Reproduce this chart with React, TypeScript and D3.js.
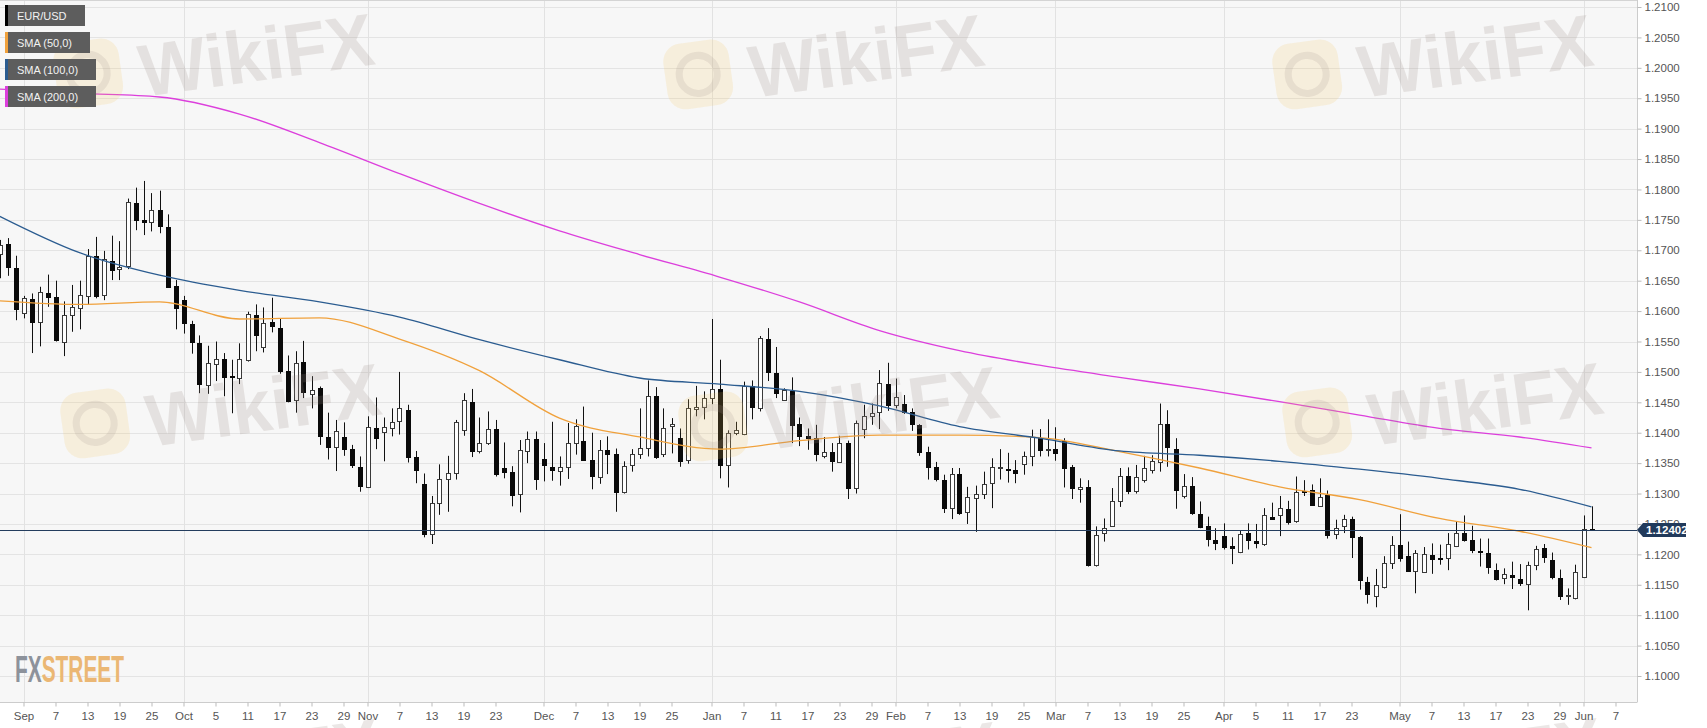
import React, { useEffect, useRef } from 'react';
import * as d3 from 'd3';

// EUR/USD daily candles, one per weekday from 29 Aug 2018 to 4 Jun 2019
const opens = [
  1.1695, 1.1710, 1.1671, 1.1596, 1.1620, 1.1581, 1.1630, 1.1623, 1.1549, 1.1594,
  1.1606, 1.1625, 1.1691, 1.1625, 1.1683, 1.1669, 1.1673, 1.1777, 1.1749, 1.1748,
  1.1766, 1.1739, 1.1642, 1.1618, 1.1579, 1.1548, 1.1479, 1.1514, 1.1522, 1.1493,
  1.1490, 1.1521, 1.1594, 1.1541, 1.1582, 1.1573, 1.1502, 1.1453, 1.1516, 1.1465,
  1.1473, 1.1393, 1.1376, 1.1393, 1.1373, 1.1344, 1.1311, 1.1407, 1.1401, 1.1408,
  1.1418, 1.1438, 1.1360, 1.1316, 1.1234, 1.1285, 1.1323, 1.1333, 1.1404, 1.1451,
  1.1370, 1.1383, 1.1406, 1.1342, 1.1335, 1.1298, 1.1371, 1.1389, 1.1357, 1.1344,
  1.1338, 1.1344, 1.1383, 1.1387, 1.1355, 1.1327, 1.1372, 1.1365, 1.1303, 1.1347,
  1.1365, 1.1375, 1.1461, 1.1364, 1.1410, 1.1392, 1.1354, 1.1440, 1.1443, 1.1457,
  1.1472, 1.1346, 1.1399, 1.1398, 1.1477, 1.1440, 1.1554, 1.1498, 1.1454, 1.1469,
  1.1414, 1.1394, 1.1392, 1.1362, 1.1368, 1.1352, 1.1383, 1.1309, 1.1406, 1.1428,
  1.1433, 1.1480, 1.1446, 1.1448, 1.1434, 1.1413, 1.1368, 1.1343, 1.1323, 1.1276,
  1.1332, 1.1269, 1.1292, 1.1299, 1.1316, 1.1342, 1.1340, 1.1338, 1.1349, 1.1362,
  1.1392, 1.1372, 1.1373, 1.1387, 1.1343, 1.1308, 1.1311, 1.1183, 1.1235, 1.1247,
  1.1288, 1.1329, 1.1304, 1.1322, 1.1339, 1.1352, 1.1414, 1.1373, 1.1296, 1.1313,
  1.1266, 1.1246, 1.1224, 1.1231, 1.1214, 1.1205, 1.1235, 1.1222, 1.1218, 1.1262,
  1.1264, 1.1274, 1.1254, 1.1304, 1.1306, 1.1281, 1.1297, 1.1234, 1.1247, 1.1258,
  1.1228, 1.1154, 1.1132, 1.1147, 1.1186, 1.1216, 1.1197, 1.1172, 1.1172, 1.1199,
  1.1194, 1.1194, 1.1214, 1.1235, 1.1223, 1.1205, 1.1203, 1.1174, 1.1161, 1.1166,
  1.1160, 1.1151, 1.1182, 1.1210, 1.1191, 1.1161, 1.1132, 1.1129, 1.1163, 1.1242,
];
const highs = [
  1.1717, 1.1720, 1.1691, 1.1625, 1.1629, 1.1640, 1.1660, 1.1650, 1.1616, 1.1643,
  1.1650, 1.1702, 1.1722, 1.1699, 1.1724, 1.1715, 1.1785, 1.1803, 1.1814, 1.1794,
  1.1798, 1.1759, 1.1651, 1.1625, 1.1584, 1.1560, 1.1543, 1.1550, 1.1531, 1.1520,
  1.1547, 1.1599, 1.1611, 1.1606, 1.1622, 1.1587, 1.1527, 1.1534, 1.1551, 1.1493,
  1.1476, 1.1433, 1.1421, 1.1417, 1.1380, 1.1361, 1.1427, 1.1458, 1.1425, 1.1440,
  1.1500, 1.1446, 1.1370, 1.1333, 1.1296, 1.1348, 1.1362, 1.1421, 1.1465, 1.1472,
  1.1425, 1.1435, 1.1421, 1.1384, 1.1345, 1.1388, 1.1402, 1.1402, 1.1383, 1.1418,
  1.1361, 1.1416, 1.1422, 1.1443, 1.1400, 1.1388, 1.1394, 1.1374, 1.1353, 1.1373,
  1.1440, 1.1486, 1.1475, 1.1440, 1.1424, 1.1407, 1.1455, 1.1477, 1.1468, 1.1587,
  1.1520, 1.1404, 1.1418, 1.1484, 1.1486, 1.1559, 1.1572, 1.1541, 1.1473, 1.1491,
  1.1425, 1.1407, 1.1413, 1.1393, 1.1383, 1.1395, 1.1387, 1.1420, 1.1446, 1.1448,
  1.1503, 1.1515, 1.1489, 1.1462, 1.1440, 1.1414, 1.1377, 1.1352, 1.1331, 1.1342,
  1.1342, 1.1311, 1.1313, 1.1336, 1.1358, 1.1373, 1.1367, 1.1355, 1.1369, 1.1405,
  1.1406, 1.1422, 1.1409, 1.1391, 1.1347, 1.1325, 1.1322, 1.1246, 1.1259, 1.1309,
  1.1342, 1.1343, 1.1347, 1.1362, 1.1363, 1.1448, 1.1437, 1.1391, 1.1332, 1.1327,
  1.1287, 1.1262, 1.1243, 1.1251, 1.1228, 1.1240, 1.1251, 1.1250, 1.1276, 1.1285,
  1.1296, 1.1288, 1.1328, 1.1322, 1.1315, 1.1325, 1.1305, 1.1257, 1.1265, 1.1262,
  1.1230, 1.1163, 1.1176, 1.1197, 1.1230, 1.1266, 1.1221, 1.1207, 1.1212, 1.1218,
  1.1216, 1.1235, 1.1254, 1.1264, 1.1247, 1.1226, 1.1226, 1.1185, 1.1177, 1.1188,
  1.1184, 1.1188, 1.1214, 1.1217, 1.1203, 1.1175, 1.1144, 1.1183, 1.1264, 1.1279,
];
const lows = [
  1.1654, 1.1658, 1.1585, 1.1588, 1.1531, 1.1542, 1.1607, 1.1550, 1.1526, 1.1566,
  1.1570, 1.1610, 1.1621, 1.1618, 1.1651, 1.1651, 1.1669, 1.1733, 1.1725, 1.1731,
  1.1728, 1.1639, 1.1570, 1.1563, 1.1530, 1.1465, 1.1464, 1.1485, 1.1460, 1.1432,
  1.1480, 1.1517, 1.1534, 1.1532, 1.1565, 1.1497, 1.1450, 1.1433, 1.1457, 1.1440,
  1.1380, 1.1356, 1.1337, 1.1362, 1.1342, 1.1303, 1.1309, 1.1373, 1.1353, 1.1394,
  1.1397, 1.1351, 1.1317, 1.1228, 1.1217, 1.1265, 1.1270, 1.1323, 1.1395, 1.1360,
  1.1366, 1.1380, 1.1328, 1.1325, 1.1279, 1.1269, 1.1350, 1.1306, 1.1320, 1.1321,
  1.1313, 1.1324, 1.1364, 1.1355, 1.1307, 1.1316, 1.1332, 1.1270, 1.1300, 1.1336,
  1.1357, 1.1361, 1.1357, 1.1360, 1.1366, 1.1344, 1.1349, 1.1427, 1.1422, 1.1447,
  1.1325, 1.1310, 1.1396, 1.1396, 1.1422, 1.1435, 1.1485, 1.1457, 1.1453, 1.1383,
  1.1378, 1.1372, 1.1353, 1.1358, 1.1336, 1.1351, 1.1291, 1.1300, 1.1391, 1.1413,
  1.1406, 1.1436, 1.1440, 1.1431, 1.1403, 1.1362, 1.1323, 1.1320, 1.1268, 1.1258,
  1.1265, 1.1250, 1.1237, 1.1291, 1.1276, 1.1323, 1.1318, 1.1317, 1.1331, 1.1345,
  1.1361, 1.1361, 1.1354, 1.1310, 1.1291, 1.1285, 1.1180, 1.1180, 1.1221, 1.1245,
  1.1278, 1.1299, 1.1300, 1.1318, 1.1333, 1.1336, 1.1344, 1.1275, 1.1292, 1.1265,
  1.1243, 1.1213, 1.1207, 1.1208, 1.1184, 1.1202, 1.1208, 1.1210, 1.1214, 1.1257,
  1.1230, 1.1249, 1.1252, 1.1296, 1.1280, 1.1279, 1.1226, 1.1225, 1.1235, 1.1194,
  1.1142, 1.1119, 1.1113, 1.1144, 1.1176, 1.1188, 1.1172, 1.1136, 1.1170, 1.1168,
  1.1183, 1.1174, 1.1212, 1.1221, 1.1202, 1.1180, 1.1168, 1.1157, 1.1151, 1.1143,
  1.1148, 1.1108, 1.1174, 1.1186, 1.1159, 1.1125, 1.1117, 1.1126, 1.1161, 1.1239,
];
const closes = [
  1.1709, 1.1672, 1.1603, 1.1621, 1.1583, 1.1631, 1.1624, 1.1553, 1.1594, 1.1607,
  1.1627, 1.1690, 1.1625, 1.1685, 1.1668, 1.1673, 1.1779, 1.1749, 1.1746, 1.1767,
  1.1740, 1.1640, 1.1606, 1.1580, 1.1549, 1.1480, 1.1515, 1.1522, 1.1493, 1.1491,
  1.1521, 1.1596, 1.1561, 1.1580, 1.1576, 1.1502, 1.1452, 1.1514, 1.1467, 1.1471,
  1.1394, 1.1377, 1.1403, 1.1374, 1.1347, 1.1313, 1.1409, 1.1390, 1.1409, 1.1418,
  1.1440, 1.1361, 1.1339, 1.1233, 1.1285, 1.1324, 1.1333, 1.1417, 1.1453, 1.1371,
  1.1383, 1.1406, 1.1332, 1.1335, 1.1298, 1.1371, 1.1390, 1.1324, 1.1347, 1.1339,
  1.1344, 1.1383, 1.1411, 1.1356, 1.1328, 1.1372, 1.1365, 1.1302, 1.1345, 1.1365,
  1.1375, 1.1461, 1.1361, 1.1407, 1.1414, 1.1355, 1.1440, 1.1443, 1.1457, 1.1472,
  1.1347, 1.1399, 1.1404, 1.1477, 1.1442, 1.1555, 1.1499, 1.1465, 1.1470, 1.1413,
  1.1394, 1.1391, 1.1366, 1.1369, 1.1354, 1.1383, 1.1309, 1.1416, 1.1428, 1.1433,
  1.1481, 1.1446, 1.1459, 1.1435, 1.1414, 1.1369, 1.1343, 1.1323, 1.1277, 1.1332,
  1.1268, 1.1294, 1.1299, 1.1316, 1.1343, 1.1343, 1.1339, 1.1333, 1.1362, 1.1393,
  1.1373, 1.1374, 1.1366, 1.1343, 1.1309, 1.1311, 1.1183, 1.1232, 1.1244, 1.1288,
  1.1329, 1.1305, 1.1327, 1.1342, 1.1354, 1.1415, 1.1376, 1.1306, 1.1313, 1.1268,
  1.1245, 1.1224, 1.1219, 1.1213, 1.1210, 1.1234, 1.1224, 1.1219, 1.1265, 1.1258,
  1.1276, 1.1253, 1.1302, 1.1303, 1.1282, 1.1295, 1.1232, 1.1244, 1.1258, 1.1228,
  1.1157, 1.1135, 1.1150, 1.1186, 1.1216, 1.1195, 1.1173, 1.1202, 1.1201, 1.1192,
  1.1192, 1.1217, 1.1235, 1.1223, 1.1206, 1.1203, 1.1180, 1.1159, 1.1168, 1.1163,
  1.1154, 1.1182, 1.1208, 1.1195, 1.1163, 1.1132, 1.1133, 1.1171, 1.1242, 1.12402,
];

// moving averages at every 10th bar and at the last bar
const sma50 = [
  1.1617, 1.1611, 1.1615, 1.1587, 1.1589, 1.1554, 1.1502, 1.1424, 1.1393, 1.1373, 1.1387,
  1.1396, 1.1396, 1.1392, 1.1369, 1.1342, 1.1311, 1.1290, 1.1259, 1.1238, 1.1211,
];
const sma100 = [
  1.1756, 1.1696, 1.1659, 1.1634, 1.1615, 1.1590, 1.1553, 1.1520, 1.1490, 1.1480, 1.1468,
  1.1444, 1.1410, 1.1391, 1.1370, 1.1363, 1.1353, 1.1340, 1.1325, 1.1307, 1.1278,
];
const sma200 = [
  1.1965, 1.1958, 1.1952, 1.1924, 1.1877, 1.1826, 1.1777, 1.1732, 1.1693, 1.1656, 1.1615,
  1.1568, 1.1535, 1.1511, 1.1491, 1.1472, 1.1451, 1.1429, 1.1407, 1.1393, 1.1375,
];

const lastPrice = 1.12402;

const xTickDates = [
  '2018-09-03', '2018-09-07', '2018-09-13', '2018-09-19', '2018-09-25',
  '2018-10-01', '2018-10-05', '2018-10-11', '2018-10-17', '2018-10-23', '2018-10-29',
  '2018-11-01', '2018-11-07', '2018-11-13', '2018-11-19', '2018-11-23',
  '2018-12-03', '2018-12-07', '2018-12-13', '2018-12-19', '2018-12-25',
  '2019-01-01', '2019-01-07', '2019-01-11', '2019-01-17', '2019-01-23', '2019-01-29',
  '2019-02-01', '2019-02-07', '2019-02-13', '2019-02-19', '2019-02-25',
  '2019-03-01', '2019-03-07', '2019-03-13', '2019-03-19', '2019-03-25',
  '2019-04-01', '2019-04-05', '2019-04-11', '2019-04-17', '2019-04-23',
  '2019-05-01', '2019-05-07', '2019-05-13', '2019-05-17', '2019-05-23', '2019-05-29',
  '2019-06-03', '2019-06-07',
];

const yTickValues = [
  1.100, 1.105, 1.110, 1.115, 1.120, 1.125, 1.130, 1.135, 1.140, 1.145, 1.150, 1.155,
  1.160, 1.165, 1.170, 1.175, 1.180, 1.185, 1.190, 1.195, 1.200, 1.205, 1.210,
];

const legendLabels = ['EUR/USD', 'SMA (50,0)', 'SMA (100,0)', 'SMA (200,0)'];
const legendColors = ['#000000', '#f0a13c', '#2b5c90', '#dc3fdc'];

export default function App() {
  const svgRef = useRef<SVGSVGElement>(null);

  useEffect(() => {
    document.body.style.margin = '0';
    if (!svgRef.current) return;

    const svg = d3.select(svgRef.current);
    svg.selectAll('*').remove();

    const width = 1707;
    const height = 728;
    const plotW = 1637;
    const plotH = 702;
    const font = '"Liberation Sans", Arial, sans-serif';

    // trading calendar (weekdays), runs a few days past the data for the last tick
    const days = d3.timeDay
      .range(new Date(2018, 7, 29), new Date(2019, 5, 8))
      .filter(d => d.getDay() !== 0 && d.getDay() !== 6);
    const fmtKey = d3.timeFormat('%Y-%m-%d');
    const keys = days.map(fmtKey);

    const x = d3.scaleLinear().domain([0, closes.length - 1]).range([-0.5, 1591.5]);
    const y = d3.scaleLinear().domain([1.10, 1.21]).range([676, 7]);
    const px = (v: number) => Math.round(v) + 0.5;

    svg.append('rect').attr('width', width).attr('height', height).attr('fill', '#ffffff');
    svg.append('rect').attr('width', plotW).attr('height', plotH).attr('fill', '#f7f7f7');

    // horizontal grid
    svg.append('g')
      .selectAll('line')
      .data(yTickValues)
      .enter()
      .append('line')
      .attr('x1', 0).attr('x2', plotW)
      .attr('y1', d => px(y(d))).attr('y2', d => px(y(d)))
      .attr('stroke', '#e4e4e4');

    // vertical grid at the month labels
    const tickIdx = xTickDates.map(k => keys.indexOf(k));
    const isMonth = (i: number) => i === 0 || days[i].getMonth() !== days[i - 1].getMonth();
    svg.append('g')
      .selectAll('line')
      .data(tickIdx.filter(i => isMonth(i)))
      .enter()
      .append('line')
      .attr('x1', d => px(x(d))).attr('x2', d => px(x(d)))
      .attr('y1', 0).attr('y2', plotH)
      .attr('stroke', '#e2e2e2');

    svg.append('line')
      .attr('x1', 0).attr('x2', plotW).attr('y1', 0.5).attr('y2', 0.5)
      .attr('stroke', '#d4d4d4');

    svg.append('defs').append('clipPath').attr('id', 'plot-clip')
      .append('rect').attr('width', plotW).attr('height', plotH);

    const g = svg.append('g').attr('clip-path', 'url(#plot-clip)');

    // candles
    const candles = g.selectAll('.candle')
      .data(closes.map((c, i) => ({ i, o: opens[i], h: highs[i], l: lows[i], c })))
      .enter()
      .append('g')
      .attr('class', 'candle');

    candles.append('line')
      .attr('x1', d => px(x(d.i))).attr('x2', d => px(x(d.i)))
      .attr('y1', d => y(d.h)).attr('y2', d => y(d.l))
      .attr('stroke', '#111')
      .attr('stroke-width', 1);

    candles.append('rect')
      .attr('x', d => Math.round(x(d.i)) - 2 + 0.5)
      .attr('width', 4)
      .attr('y', d => Math.round(y(Math.max(d.o, d.c))) + 0.5)
      .attr('height', d => Math.max(1, Math.round(Math.abs(y(d.o) - y(d.c)))))
      .attr('fill', d => (d.c >= d.o ? '#ffffff' : '#0a0a0a'))
      .attr('stroke', d => (d.c >= d.o ? '#3a3a3a' : '#0a0a0a'))
      .attr('stroke-width', 1);

    // moving averages
    const smaIdx = sma50.map((_, k) => Math.min(k * 10, closes.length - 1));
    const smaLine = d3.line<number>()
      .x((_, k) => x(smaIdx[k]))
      .y(v => y(v))
      .curve(d3.curveMonotoneX);

    [sma50, sma100, sma200].forEach((s, k) => {
      g.append('path')
        .datum(s)
        .attr('d', smaLine)
        .attr('fill', 'none')
        .attr('stroke', legendColors[k + 1])
        .attr('stroke-width', 1.3);
    });

    // last price line
    g.append('line')
      .attr('x1', 0).attr('x2', plotW)
      .attr('y1', px(y(lastPrice))).attr('y2', px(y(lastPrice)))
      .attr('stroke', '#243d5e')
      .attr('stroke-width', 1);

    // y axis
    svg.append('line')
      .attr('x1', plotW + 0.5).attr('x2', plotW + 0.5).attr('y1', 0).attr('y2', plotH)
      .attr('stroke', '#cccccc');

    const yAxis = svg.append('g')
      .attr('transform', `translate(${plotW + 0.5},0)`)
      .call(d3.axisRight(y).tickValues(yTickValues).tickFormat(d3.format('.4f')).tickSize(4).tickSizeOuter(0).tickPadding(3));
    yAxis.select('.domain').remove();
    yAxis.selectAll('line').attr('stroke', '#bbbbbb');
    yAxis.selectAll('text').attr('fill', '#555555').attr('font-size', '11.5px').attr('font-family', font);

    // x axis
    svg.append('line')
      .attr('x1', 0).attr('x2', plotW + 0.5).attr('y1', plotH + 0.5).attr('y2', plotH + 0.5)
      .attr('stroke', '#cccccc');

    const fmtMonth = d3.timeFormat('%b');
    const fmtDay = d3.timeFormat('%-d');
    const xAxis = svg.append('g')
      .attr('transform', `translate(0,${plotH + 0.5})`)
      .call(
        d3.axisBottom(x)
          .tickValues(tickIdx)
          .tickFormat(i => (isMonth(+i) ? fmtMonth(days[+i]) : fmtDay(days[+i])))
          .tickSize(4)
          .tickSizeOuter(0)
          .tickPadding(5)
      );
    xAxis.select('.domain').remove();
    xAxis.selectAll('line').attr('stroke', '#bbbbbb');
    xAxis.selectAll('text').attr('fill', '#555555').attr('font-size', '11.5px').attr('font-family', font);

    // last price tag
    const ty = y(lastPrice);
    svg.append('path')
      .attr('d', `M${plotW},${ty} L${plotW + 6},${ty - 7} L${plotW + 49},${ty - 7} L${plotW + 49},${ty + 7} L${plotW + 6},${ty + 7} Z`)
      .attr('fill', '#213a5b');
    svg.append('text')
      .attr('x', plotW + 9).attr('y', ty + 4)
      .attr('fill', '#ffffff')
      .attr('font-family', font)
      .attr('font-size', '11.5px')
      .attr('font-weight', 700)
      .text(d3.format('.5f')(lastPrice));

    // watermarks
    const marks: [number, number][] = [
      [143, 97], [753, 98], [1362, 98],
      [150, 447], [768, 450], [1372, 446],
      [150, 802], [768, 805], [1372, 801],
    ];
    marks.forEach(([mx, my]) => {
      const w = svg.append('g')
        .attr('transform', `translate(${mx},${my}) rotate(-8)`)
        .attr('pointer-events', 'none');
      w.append('rect')
        .attr('x', -84).attr('y', -64).attr('width', 66).attr('height', 66).attr('rx', 18)
        .attr('fill', '#f3c65a').attr('opacity', 0.17);
      w.append('circle')
        .attr('cx', -51).attr('cy', -31).attr('r', 19)
        .attr('fill', 'none').attr('stroke', '#a8988f').attr('stroke-width', 7).attr('opacity', 0.18);
      w.append('text')
        .attr('x', 0).attr('y', 0)
        .attr('font-family', font)
        .attr('font-size', 74)
        .attr('font-weight', 700)
        .attr('textLength', 236)
        .attr('lengthAdjust', 'spacingAndGlyphs')
        .attr('fill', '#9d8d86')
        .attr('opacity', 0.2)
        .text('WikiFX');
    });

    // FXStreet logo
    const logo = svg.append('text')
      .attr('x', 15).attr('y', 682)
      .attr('font-family', font).attr('font-size', 36).attr('font-weight', 700)
      .attr('textLength', 109).attr('lengthAdjust', 'spacingAndGlyphs');
    logo.append('tspan').attr('fill', '#8d929b').text('FX');
    logo.append('tspan').attr('fill', '#ebb774').text('STREET');

    // legend
    const boxW = [80, 85, 91, 91];
    const legend = svg.append('g');
    legendLabels.forEach((label, k) => {
      const top = 5 + k * 27;
      legend.append('rect')
        .attr('x', 5).attr('y', top).attr('width', boxW[k]).attr('height', 21)
        .attr('fill', '#5d5d5d');
      legend.append('rect')
        .attr('x', 5).attr('y', top).attr('width', 3).attr('height', 21)
        .attr('fill', legendColors[k]);
      legend.append('text')
        .attr('x', 17).attr('y', top + 15)
        .attr('fill', '#f2f2f2')
        .attr('font-family', font)
        .attr('font-size', '11px')
        .text(label);
    });
  }, []);

  return <svg ref={svgRef} width={1707} height={728} style={{ display: 'block' }} />;
}
